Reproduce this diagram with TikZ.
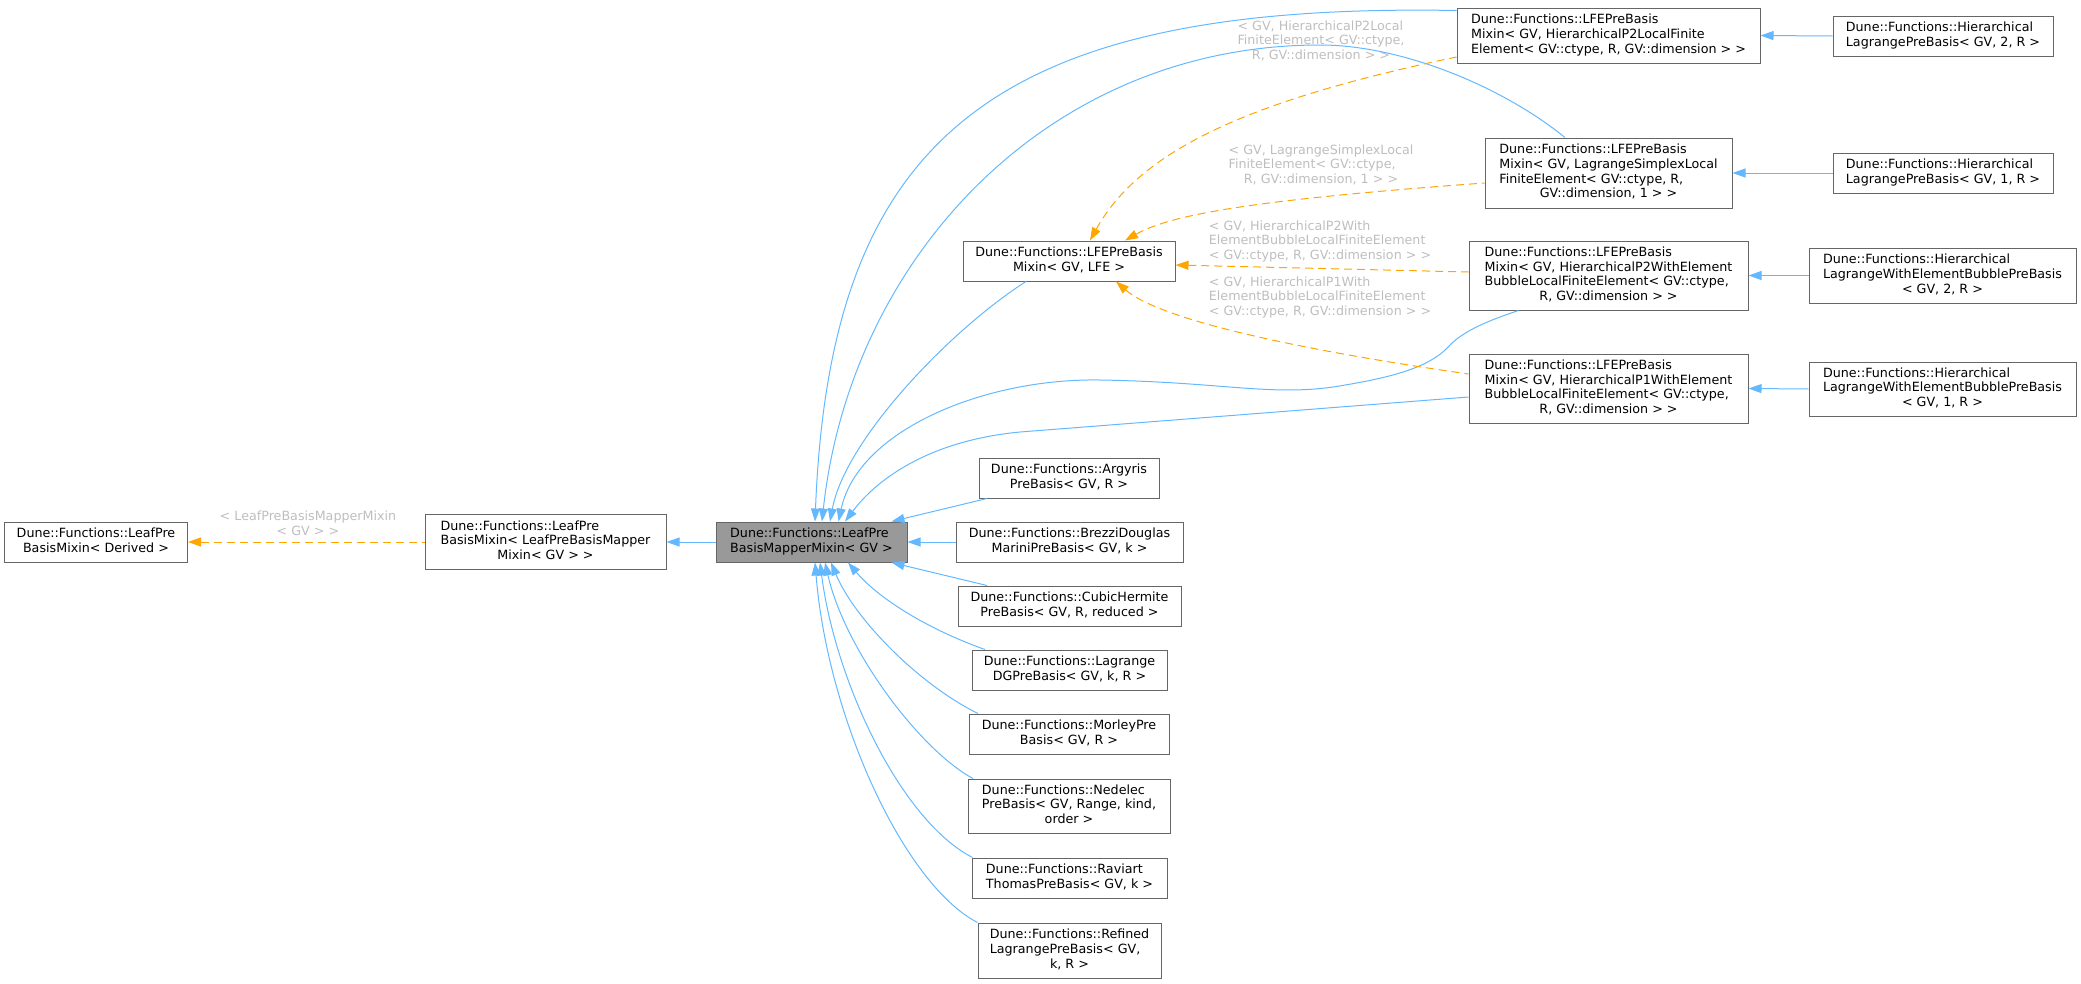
\documentclass[tikz,border=0pt]{standalone}
\usepackage{fontspec}
\setmainfont{DejaVu Sans}
\usepackage{tikz}
\usetikzlibrary{arrows.meta, positioning, calc}
\definecolor{edgeblue}{HTML}{63B8FF}
\definecolor{edgeorange}{HTML}{FFA500}
\definecolor{labelgray}{HTML}{BEBEBE}
\definecolor{nodeborder}{HTML}{666666}
\definecolor{mainfill}{HTML}{999999}
\newcommand{\nodefont}{\fontsize{12.7}{14.7}\selectfont}
% all lines left, the last one centred
\newcommand{\classtext}[2]{\begin{tabular}{@{}l@{}}#1\\\multicolumn{1}{@{}c@{}}{#2}\end{tabular}}
\tikzset{>={Triangle[length=13pt,width=9pt]}}
\tikzset{
  classbox/.style={draw=nodeborder, fill=white, line width=1pt, inner sep=0pt, font=\nodefont},
  current/.style={classbox, fill=mainfill},
  wh/.style 2 args={minimum width=#1pt, minimum height=#2pt},
  inherit/.style={draw=edgeblue, line width=1pt},
  usage/.style={draw=edgeorange, line width=1pt, dash pattern=on 8pt off 5pt},
  tmpl/.style={text=labelgray, font=\nodefont, inner sep=0pt}
}
\begin{document}
\begin{tikzpicture}[x=1pt, y=-1pt]
  \useasboundingbox (0,0) rectangle (2081,983);
  % classes
  \node[classbox, wh={183}{40}] (derived) at (96,542) {\classtext{Dune::Functions::LeafPre}{BasisMixin< Derived >}};
  \node[classbox, wh={241}{55}] (lpbm) at (545.5,542) {\classtext{Dune::Functions::LeafPre\\BasisMixin< LeafPreBasisMapper}{Mixin< GV > >}};
  \node[current, wh={191}{40}] (main) at (811.5,542) {\classtext{Dune::Functions::LeafPre}{BasisMapperMixin< GV >}};
  \node[classbox, wh={212}{40}] (lfe) at (1069,261) {\classtext{Dune::Functions::LFEPreBasis}{Mixin< GV, LFE >}};
  \node[classbox, wh={180}{40}] (argyris) at (1069,478) {\classtext{Dune::Functions::Argyris}{PreBasis< GV, R >}};
  \node[classbox, wh={227}{40}] (brezzi) at (1069.5,542) {\classtext{Dune::Functions::BrezziDouglas}{MariniPreBasis< GV, k >}};
  \node[classbox, wh={223}{40}] (cubic) at (1069.5,606) {\classtext{Dune::Functions::CubicHermite}{PreBasis< GV, R, reduced >}};
  \node[classbox, wh={195}{40}] (lagdg) at (1069.5,670) {\classtext{Dune::Functions::Lagrange}{DGPreBasis< GV, k, R >}};
  \node[classbox, wh={200}{40}] (morley) at (1069,734) {\classtext{Dune::Functions::MorleyPre}{Basis< GV, R >}};
  \node[classbox, wh={202}{54}] (nedelec) at (1069,806) {\classtext{Dune::Functions::Nedelec\\PreBasis< GV, Range, kind,}{order >}};
  \node[classbox, wh={195}{40}] (raviart) at (1069.5,878) {\classtext{Dune::Functions::Raviart}{ThomasPreBasis< GV, k >}};
  \node[classbox, wh={183}{55}] (refined) at (1069.5,950.5) {\classtext{Dune::Functions::Refined\\LagrangePreBasis< GV,}{k, R >}};
  \node[classbox, wh={303}{55}] (p2local) at (1608.5,35.5) {\classtext{Dune::Functions::LFEPreBasis\\Mixin< GV, HierarchicalP2LocalFinite}{Element< GV::ctype, R, GV::dimension > >}};
  \node[classbox, wh={247}{70}] (simplex) at (1608.5,173) {\classtext{Dune::Functions::LFEPreBasis\\Mixin< GV, LagrangeSimplexLocal\\FiniteElement< GV::ctype, R,}{GV::dimension, 1 > >}};
  \node[classbox, wh={279}{69}] (p2bubble) at (1608.5,275.5) {\classtext{Dune::Functions::LFEPreBasis\\Mixin< GV, HierarchicalP2WithElement\\BubbleLocalFiniteElement< GV::ctype,}{R, GV::dimension > >}};
  \node[classbox, wh={279}{69}] (p1bubble) at (1608.5,388.5) {\classtext{Dune::Functions::LFEPreBasis\\Mixin< GV, HierarchicalP1WithElement\\BubbleLocalFiniteElement< GV::ctype,}{R, GV::dimension > >}};
  \node[classbox, wh={220}{40}] (hier2) at (1943,36) {\classtext{Dune::Functions::Hierarchical}{LagrangePreBasis< GV, 2, R >}};
  \node[classbox, wh={220}{40}] (hier1) at (1943,173) {\classtext{Dune::Functions::Hierarchical}{LagrangePreBasis< GV, 1, R >}};
  \node[classbox, wh={267}{55}] (hbubble2) at (1942.5,275.5) {\classtext{Dune::Functions::Hierarchical\\LagrangeWithElementBubblePreBasis}{< GV, 2, R >}};
  \node[classbox, wh={267}{54}] (hbubble1) at (1942.5,389) {\classtext{Dune::Functions::Hierarchical\\LagrangeWithElementBubblePreBasis}{< GV, 1, R >}};
  % template arguments
  \node[tmpl] (tlpbm) at (308,525) {\classtext{< LeafPreBasisMapperMixin}{< GV > >}};
  \node[tmpl] (tp2local) at (1321,42) {\classtext{< GV, HierarchicalP2Local\\FiniteElement< GV::ctype,}{R, GV::dimension > >}};
  \node[tmpl] (tsimplex) at (1321,166) {\classtext{< GV, LagrangeSimplexLocal\\FiniteElement< GV::ctype,}{R, GV::dimension, 1 > >}};
  \node[tmpl] (tp2bubble) at (1320,242) {\classtext{< GV, HierarchicalP2With\\ElementBubbleLocalFiniteElement}{< GV::ctype, R, GV::dimension > >}};
  \node[tmpl] (tp1bubble) at (1320,298) {\classtext{< GV, HierarchicalP1With\\ElementBubbleLocalFiniteElement}{< GV::ctype, R, GV::dimension > >}};
  % inheritance
  \draw[usage,<-] (derived.east) -- (lpbm.west);
  \draw[inherit,<-] (lpbm.east) -- (main.west);
  \draw[inherit,<-] ([xshift=3.5pt]main.north) .. controls (830,140) and (990,2) .. ([yshift=25pt]p2local.west);
  \draw[inherit,<-] ([xshift=10.5pt]main.north) .. controls (850,260) and (1046,45) .. (1320,45) .. controls (1400,45) and (1500,85) .. ([xshift=-43.5pt]simplex.north);
  \draw[inherit,<-] ([xshift=18.5pt]main.north) .. controls (845,440) and (950,330) .. ([xshift=-43pt]lfe.south);
  \draw[inherit,<-] ([xshift=27pt]main.north) .. controls (858,430) and (985,378) .. (1100,380) .. controls (1220,382) and (1270,396) .. (1333,387) .. controls (1390,378) and (1430,368) .. (1450,345) .. controls (1465,330) and (1490,320) .. ([xshift=-90pt]p2bubble.south);
  \draw[inherit,<-] ([xshift=33.5pt]main.north) .. controls (880,475) and (935,440) .. (1020,432) -- ([yshift=-8.5pt]p1bubble.west);
  \draw[inherit,<-] ([xshift=80pt]main.north) -- ([xshift=-82pt]argyris.south);
  \draw[inherit,<-] (main.east) -- (brezzi.west);
  \draw[inherit,<-] ([xshift=80pt]main.south) -- ([xshift=-82.5pt]cubic.north);
  \draw[inherit,<-] ([xshift=36.5pt]main.south) .. controls (880,600) and (930,630) .. ([xshift=-84.5pt]lagdg.north);
  \draw[inherit,<-] ([xshift=19.5pt]main.south) .. controls (855,620) and (920,685) .. ([xshift=-91pt]morley.north);
  \draw[inherit,<-] ([xshift=13.5pt]main.south) .. controls (845,650) and (920,750) .. ([xshift=-96pt]nedelec.north);
  \draw[inherit,<-] ([xshift=8.5pt]main.south) .. controls (835,680) and (900,820) .. ([xshift=-97pt]raviart.north);
  \draw[inherit,<-] ([xshift=3.5pt]main.south) .. controls (828,720) and (905,885) .. ([xshift=-92pt]refined.north);
  \draw[inherit,<-] (p2local.east) -- (hier2.west);
  \draw[inherit,<-] (simplex.east) -- (hier1.west);
  \draw[inherit,<-] (p2bubble.east) -- (hbubble2.west);
  \draw[inherit,<-] (p1bubble.east) -- (hbubble1.west);
  % template instances
  \draw[usage,<-] ([xshift=21pt]lfe.north) .. controls (1140,150) and (1250,100) .. ([yshift=-21.5pt]p2local.west);
  \draw[usage,<-] ([xshift=56pt]lfe.north) .. controls (1170,215) and (1250,200) .. ([yshift=-10pt]simplex.west);
  \draw[usage,<-] ([yshift=-4pt]lfe.east) -- ([yshift=3.5pt]p2bubble.west);
  \draw[usage,<-] ([xshift=47pt]lfe.south) .. controls (1160,320) and (1300,350) .. ([yshift=14.5pt]p1bubble.west);
\end{tikzpicture}
\end{document}
